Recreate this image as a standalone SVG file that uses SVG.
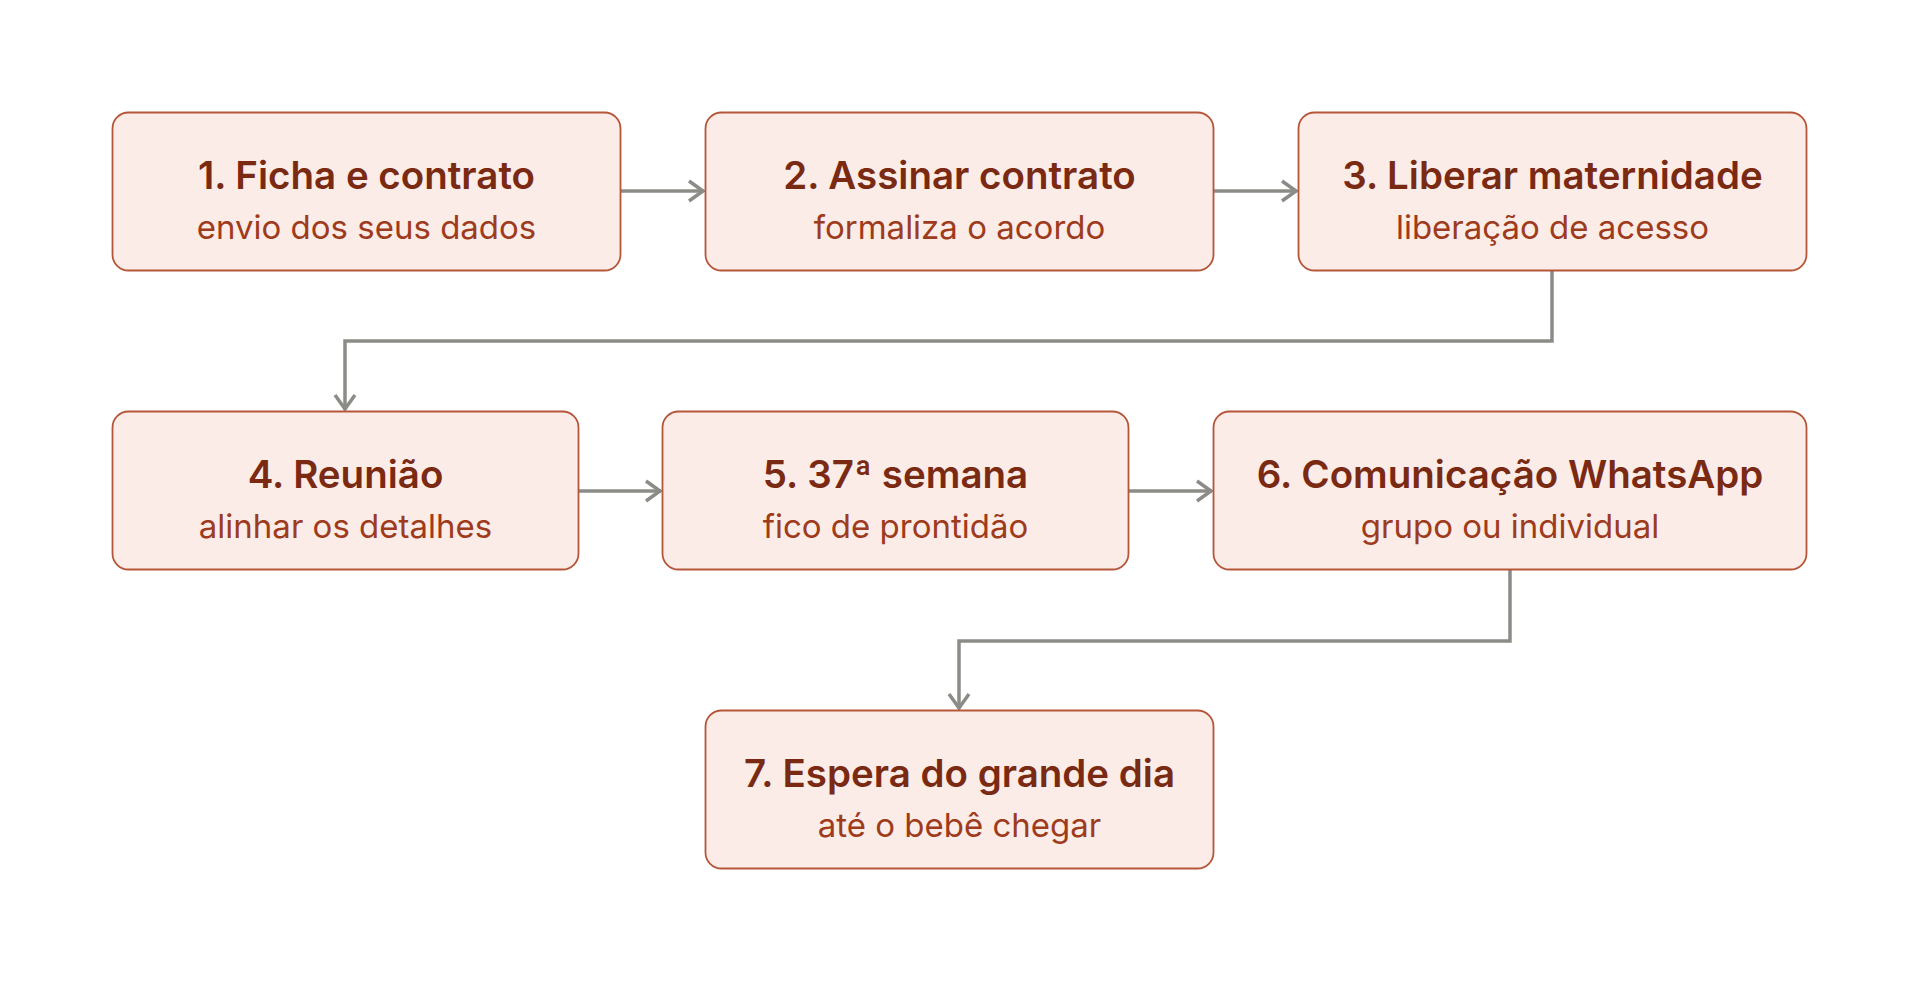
<svg xmlns="http://www.w3.org/2000/svg" width="1920" height="983" viewBox="0 0 1920 983">
<style>
.box{fill:#fbece7;stroke:#b5563a;stroke-width:1.8}
.t{font-family:Inter,"Noto Sans",sans-serif;font-weight:600;font-size:38.5px;fill:#7a2912;text-anchor:middle}
.s{font-family:Inter,"Noto Sans",sans-serif;font-weight:400;font-size:33px;fill:#9e3b1c;text-anchor:middle}
.c{fill:none;stroke:#8c8c87;stroke-width:3.5}
</style>
<defs>
<marker id="ah" viewBox="0 0 20 24" refX="18" refY="12" markerWidth="20" markerHeight="24" markerUnits="userSpaceOnUse" orient="auto">
<path d="M3,2 L17,12 L3,22" fill="none" stroke="#8c8c87" stroke-width="3.5"/>
</marker>
</defs>
<rect width="1920" height="983" fill="#ffffff"/>
<g id="connectors">
<path class="c" d="M621,191 H704" marker-end="url(#ah)"/>
<path class="c" d="M1214,191 H1297" marker-end="url(#ah)"/>
<path class="c" d="M1552,271 V341 H345 V410" marker-end="url(#ah)"/>
<path class="c" d="M578,491 H661" marker-end="url(#ah)"/>
<path class="c" d="M1128,491 H1212" marker-end="url(#ah)"/>
<path class="c" d="M1510,570 V641 H959 V709" marker-end="url(#ah)"/>
</g>
<g id="n1"><rect class="box" x="112.5" y="112.5" width="508" height="158" rx="16"/><text class="t" x="366.5" y="189">1. Ficha e contrato</text><text class="s" x="366.5" y="239">envio dos seus dados</text></g>
<g id="n2"><rect class="box" x="705.5" y="112.5" width="508" height="158" rx="16"/><text class="t" x="959.5" y="189">2. Assinar contrato</text><text class="s" x="959.5" y="239">formaliza o acordo</text></g>
<g id="n3"><rect class="box" x="1298.5" y="112.5" width="508" height="158" rx="16"/><text class="t" x="1552.5" y="189">3. Liberar maternidade</text><text class="s" x="1552.5" y="239">liberação de acesso</text></g>
<g id="n4"><rect class="box" x="112.5" y="411.5" width="466" height="158" rx="16"/><text class="t" x="345.5" y="488">4. Reunião</text><text class="s" x="345.5" y="538">alinhar os detalhes</text></g>
<g id="n5"><rect class="box" x="662.5" y="411.5" width="466" height="158" rx="16"/><text class="t" x="895.5" y="488">5. 37ª semana</text><text class="s" x="895.5" y="538">fico de prontidão</text></g>
<g id="n6"><rect class="box" x="1213.5" y="411.5" width="593" height="158" rx="16"/><text class="t" x="1510" y="488">6. Comunicação WhatsApp</text><text class="s" x="1510" y="538">grupo ou individual</text></g>
<g id="n7"><rect class="box" x="705.5" y="710.5" width="508" height="158" rx="16"/><text class="t" x="959.5" y="787">7. Espera do grande dia</text><text class="s" x="959.5" y="837">até o bebê chegar</text></g>
</svg>
